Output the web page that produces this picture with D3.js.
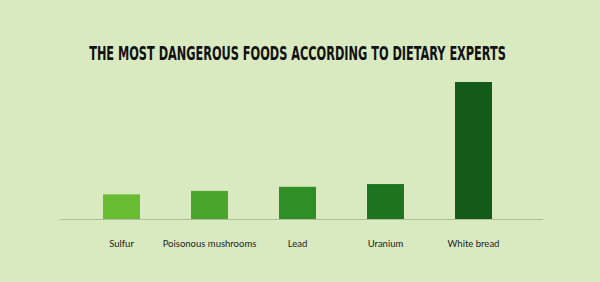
<!DOCTYPE html>
<html>
<meta charset="utf-8">
<style type="text/css">
	body { margin: 0; background: #d9eac1; }
	.title { font-family: "DejaVu Sans Condensed", "Liberation Sans Narrow", sans-serif; font-weight: bold; font-size: 18px; fill: #111; }
	.label { font-family: Lato, "Open Sans", sans-serif; font-size: 9.5px; fill: #222; }
	.baseline { stroke: #a9c09b; stroke-width: 1px; }
</style>
<svg width="600" height="282"></svg>
<script src="https://d3js.org/d3.v7.min.js"></script>
<script>
	var foods = ['Sulfur', 'Poisonous mushrooms', 'Lead', 'Uranium', 'White bread'];
	var danger = [18, 20.5, 23.5, 25.5, 100];
	var colors = ['#68bd32', '#4aa52d', '#2f8e25', '#1d7320', '#145a19'];
	var title = 'THE MOST DANGEROUS FOODS ACCORDING TO DIETARY EXPERTS';

	var svg = d3.select('svg'),
			width = +svg.attr('width'),
			height = +svg.attr('height');

	svg.append('rect')
		.attr('width', width)
		.attr('height', height)
		.attr('fill', '#d9eac1');

	// condensed headline, squeezed a little to the reference width
	var t = svg.append('text')
		.attr('class', 'title')
		.attr('text-anchor', 'middle')
		.attr('transform', 'translate(297.5,60)')
		.text(title);
	var w = t.node().getComputedTextLength();
	t.attr('transform', 'translate(297.5,60) scale(' + (417 / w) + ',1.08)');

	var x = d3.scaleBand()
			.domain(foods)
			.range([77.5, 517.5])
			.paddingInner(0.58)
			.paddingOuter(0.29);

	var y = d3.scaleLinear()
			.domain([0, 100])
			.range([219, 82]);

	svg.append('line')
		.attr('class', 'baseline')
		.attr('x1', 60)
		.attr('x2', 543)
		.attr('y1', y(0) + 0.5)
		.attr('y2', y(0) + 0.5);

	svg.selectAll('.bar')
		.data(foods)
		.enter().append('rect')
			.attr('class', 'bar')
			.attr('x', (d) => x(d))
			.attr('width', x.bandwidth())
			.attr('y', (d, i) => y(danger[i]))
			.attr('height', (d, i) => y(0) - y(danger[i]))
			.attr('fill', (d, i) => colors[i]);

	svg.selectAll('.label')
		.data(foods)
		.enter().append('text')
			.attr('class', 'label')
			.attr('x', (d) => x(d) + x.bandwidth() / 2)
			.attr('y', 247)
			.attr('text-anchor', 'middle')
			.text((d) => d);
</script>
</html>
